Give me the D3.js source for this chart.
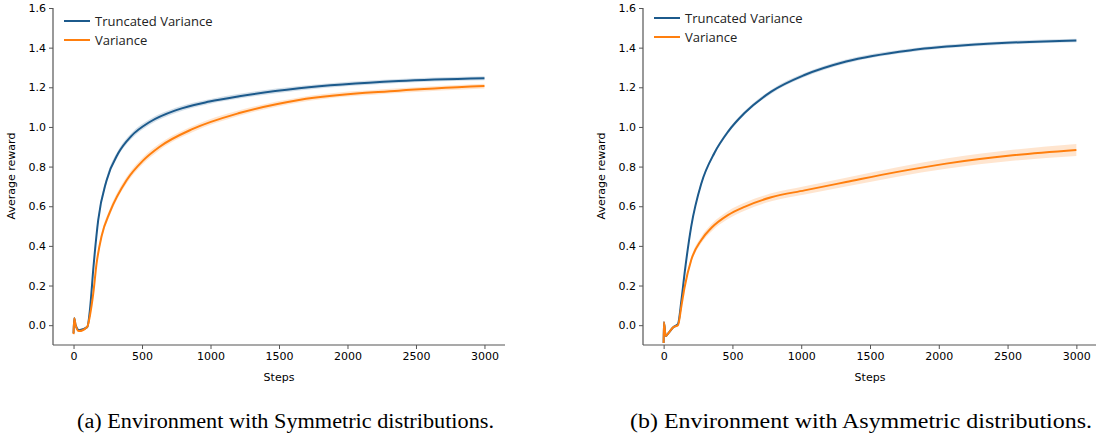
<!DOCTYPE html>
<html>
<head>
<meta charset="utf-8">
<script src="https://cdn.jsdelivr.net/npm/d3@7"></script>
<style>
  body { margin: 0; background: #fff; }
  .tick text { font-family: "DejaVu Sans", sans-serif; font-size: 11px; fill: #000; }
  .axisText { font-family: "DejaVu Sans", sans-serif; font-size: 11px; fill: #000; }
  .legendText { font-family: "Open Sans", sans-serif; font-size: 13px; fill: #222; }
  .caption { font-family: "Liberation Serif", serif; font-size: 20px; fill: #000; }
</style>
</head>
<body>
<script>

// data
var seriesNames = ["Truncated Variance", "Variance"];
var xTicks = [0, 500, 1000, 1500, 2000, 2500, 3000];
var yTicks = [0.0, 0.2, 0.4, 0.6, 0.8, 1.0, 1.2, 1.4, 1.6];

// (a) symmetric
var stepsTruncA = [0, 5, 15, 40, 100, 120, 145, 180, 241, 326, 423, 556, 750, 992, 1210, 1646, 2373, 3000];
var truncA = [-0.04, 0.035, 0.0, -0.025, -0.01, 0.08, 0.29, 0.53, 0.73, 0.867, 0.955, 1.025, 1.085, 1.128, 1.155, 1.195, 1.232, 1.246];
var truncBandA = [0.005, 0.005, 0.005, 0.005, 0.005, 0.01, 0.012, 0.014, 0.015, 0.015, 0.015, 0.014, 0.013, 0.012, 0.012, 0.011, 0.01, 0.01];
var stepsVarA = [0, 5, 15, 40, 100, 120, 144, 168, 205, 265, 386, 507, 629, 871, 1210, 1646, 2373, 3000];
var varA = [-0.045, 0.035, 0.0, -0.03, -0.008, 0.05, 0.16, 0.31, 0.45, 0.57, 0.73, 0.83, 0.9, 0.99, 1.07, 1.136, 1.183, 1.206];
var varBandA = [0.005, 0.005, 0.005, 0.005, 0.005, 0.01, 0.012, 0.014, 0.016, 0.017, 0.017, 0.017, 0.016, 0.015, 0.014, 0.013, 0.012, 0.012];

// (b) asymmetric
var stepsTruncB = [0, 2, 15, 35, 70, 104, 130, 152, 201, 274, 370, 467, 588, 782, 1024, 1326, 1810, 2295, 3000];
var truncB = [-0.09, 0.015, -0.055, -0.04, -0.01, 0.005, 0.13, 0.26, 0.5, 0.715, 0.87, 0.975, 1.07, 1.178, 1.262, 1.33, 1.388, 1.417, 1.436];
var truncBandB = [0.005, 0.005, 0.005, 0.005, 0.005, 0.005, 0.008, 0.01, 0.01, 0.01, 0.01, 0.01, 0.01, 0.01, 0.01, 0.01, 0.009, 0.009, 0.009];
var stepsVarB = [0, 2, 15, 35, 70, 104, 130, 152, 201, 274, 346, 467, 588, 782, 1024, 1326, 1690, 2053, 2537, 3000];
var varB = [-0.09, 0.015, -0.055, -0.04, -0.01, 0.0, 0.1, 0.19, 0.33, 0.43, 0.49, 0.555, 0.597, 0.645, 0.68, 0.722, 0.772, 0.815, 0.857, 0.884];
var varBandB = [0.005, 0.005, 0.005, 0.005, 0.005, 0.005, 0.008, 0.01, 0.014, 0.017, 0.019, 0.02, 0.02, 0.02, 0.021, 0.022, 0.024, 0.026, 0.028, 0.03];

var colors = ["#1c5a8c", "#ff7f0e"];

var svgWidth = 1096;
var svgHeight = 436;

var svg = d3.select("body")
  .append("svg")
  .attr("width", svgWidth)
  .attr("height", svgHeight);

function drawPanel(p) {
  var xScale = d3.scaleLinear().domain([-150, 3150]).range([p.left, p.right]);
  var yScale = d3.scaleLinear().domain([-0.1, 1.6]).range([345, 8]);

  var g = svg.append("g");

  var rowsOf = function(s) {
    return s.steps.map(function(x, j) {
      return { x: x, y: s.mean[j], lo: s.mean[j] - s.band[j], hi: s.mean[j] + s.band[j] };
    });
  };

  // shaded bands first
  p.series.forEach(function(s, i) {
    var area = d3.area()
      .x(d => xScale(d.x))
      .y0(d => yScale(d.lo))
      .y1(d => yScale(d.hi))
      .curve(d3.curveMonotoneX);

    g.append("path")
      .datum(rowsOf(s))
      .attr("d", area)
      .attr("fill", colors[i])
      .attr("opacity", 0.2);
  });

  // mean lines
  p.series.forEach(function(s, i) {
    var line = d3.line()
      .x(d => xScale(d.x))
      .y(d => yScale(d.y))
      .curve(d3.curveMonotoneX);

    g.append("path")
      .datum(rowsOf(s))
      .attr("d", line)
      .attr("fill", "none")
      .attr("stroke", colors[i])
      .attr("stroke-width", 2);
  });

  // axes
  var bottomAxis = d3.axisBottom(xScale).tickValues(xTicks).tickSize(4).tickPadding(3).tickFormat(d3.format("d"));
  var leftAxis = d3.axisLeft(yScale).tickValues(yTicks).tickSize(4).tickPadding(3).tickFormat(d3.format(".1f"));

  var xg = g.append("g")
    .attr("transform", `translate(0, 345)`)
    .call(bottomAxis);
  xg.select(".domain").attr("d", `M${p.left},0H${p.right}`);

  var yg = g.append("g")
    .attr("transform", `translate(${p.left}, 0)`)
    .call(leftAxis);
  yg.select(".domain").attr("d", "M0,8V345");

  g.selectAll(".domain").attr("stroke", "#555").attr("stroke-width", 1.2);
  g.selectAll(".tick line").attr("stroke", "#555").attr("stroke-width", 1);

  // axis labels
  g.append("text")
    .attr("class", "axisText")
    .attr("x", (xScale(-150) + xScale(3150)) / 2)
    .attr("y", 381)
    .attr("text-anchor", "middle")
    .text("Steps");

  g.append("text")
    .attr("class", "axisText")
    .attr("transform", `translate(${p.left - 38}, 176) rotate(-90)`)
    .attr("text-anchor", "middle")
    .text("Average reward");

  // legend
  seriesNames.forEach(function(name, i) {
    var ly = p.legendY + i * 19;
    g.append("line")
      .attr("x1", p.left + 11).attr("x2", p.left + 37)
      .attr("y1", ly).attr("y2", ly)
      .attr("stroke", colors[i])
      .attr("stroke-width", 2);
    g.append("text")
      .attr("class", "legendText")
      .attr("x", p.left + 42)
      .attr("y", ly + 4.5)
      .text(name);
  });

  // caption
  svg.append("text")
    .attr("class", "caption")
    .attr("x", p.capX)
    .attr("y", 428)
    .attr("textLength", p.capW)
    .attr("lengthAdjust", "spacingAndGlyphs")
    .text(p.caption);
}

drawPanel({
  left: 53, right: 505, legendY: 21,
  series: [
    { steps: stepsTruncA, mean: truncA, band: truncBandA },
    { steps: stepsVarA, mean: varA, band: varBandA }
  ],
  caption: "(a) Environment with Symmetric distributions.",
  capX: 77, capW: 417
});

drawPanel({
  left: 643, right: 1097, legendY: 18,
  series: [
    { steps: stepsTruncB, mean: truncB, band: truncBandB },
    { steps: stepsVarB, mean: varB, band: varBandB }
  ],
  caption: "(b) Environment with Asymmetric distributions.",
  capX: 630, capW: 462
});

</script>
</body>
</html>
